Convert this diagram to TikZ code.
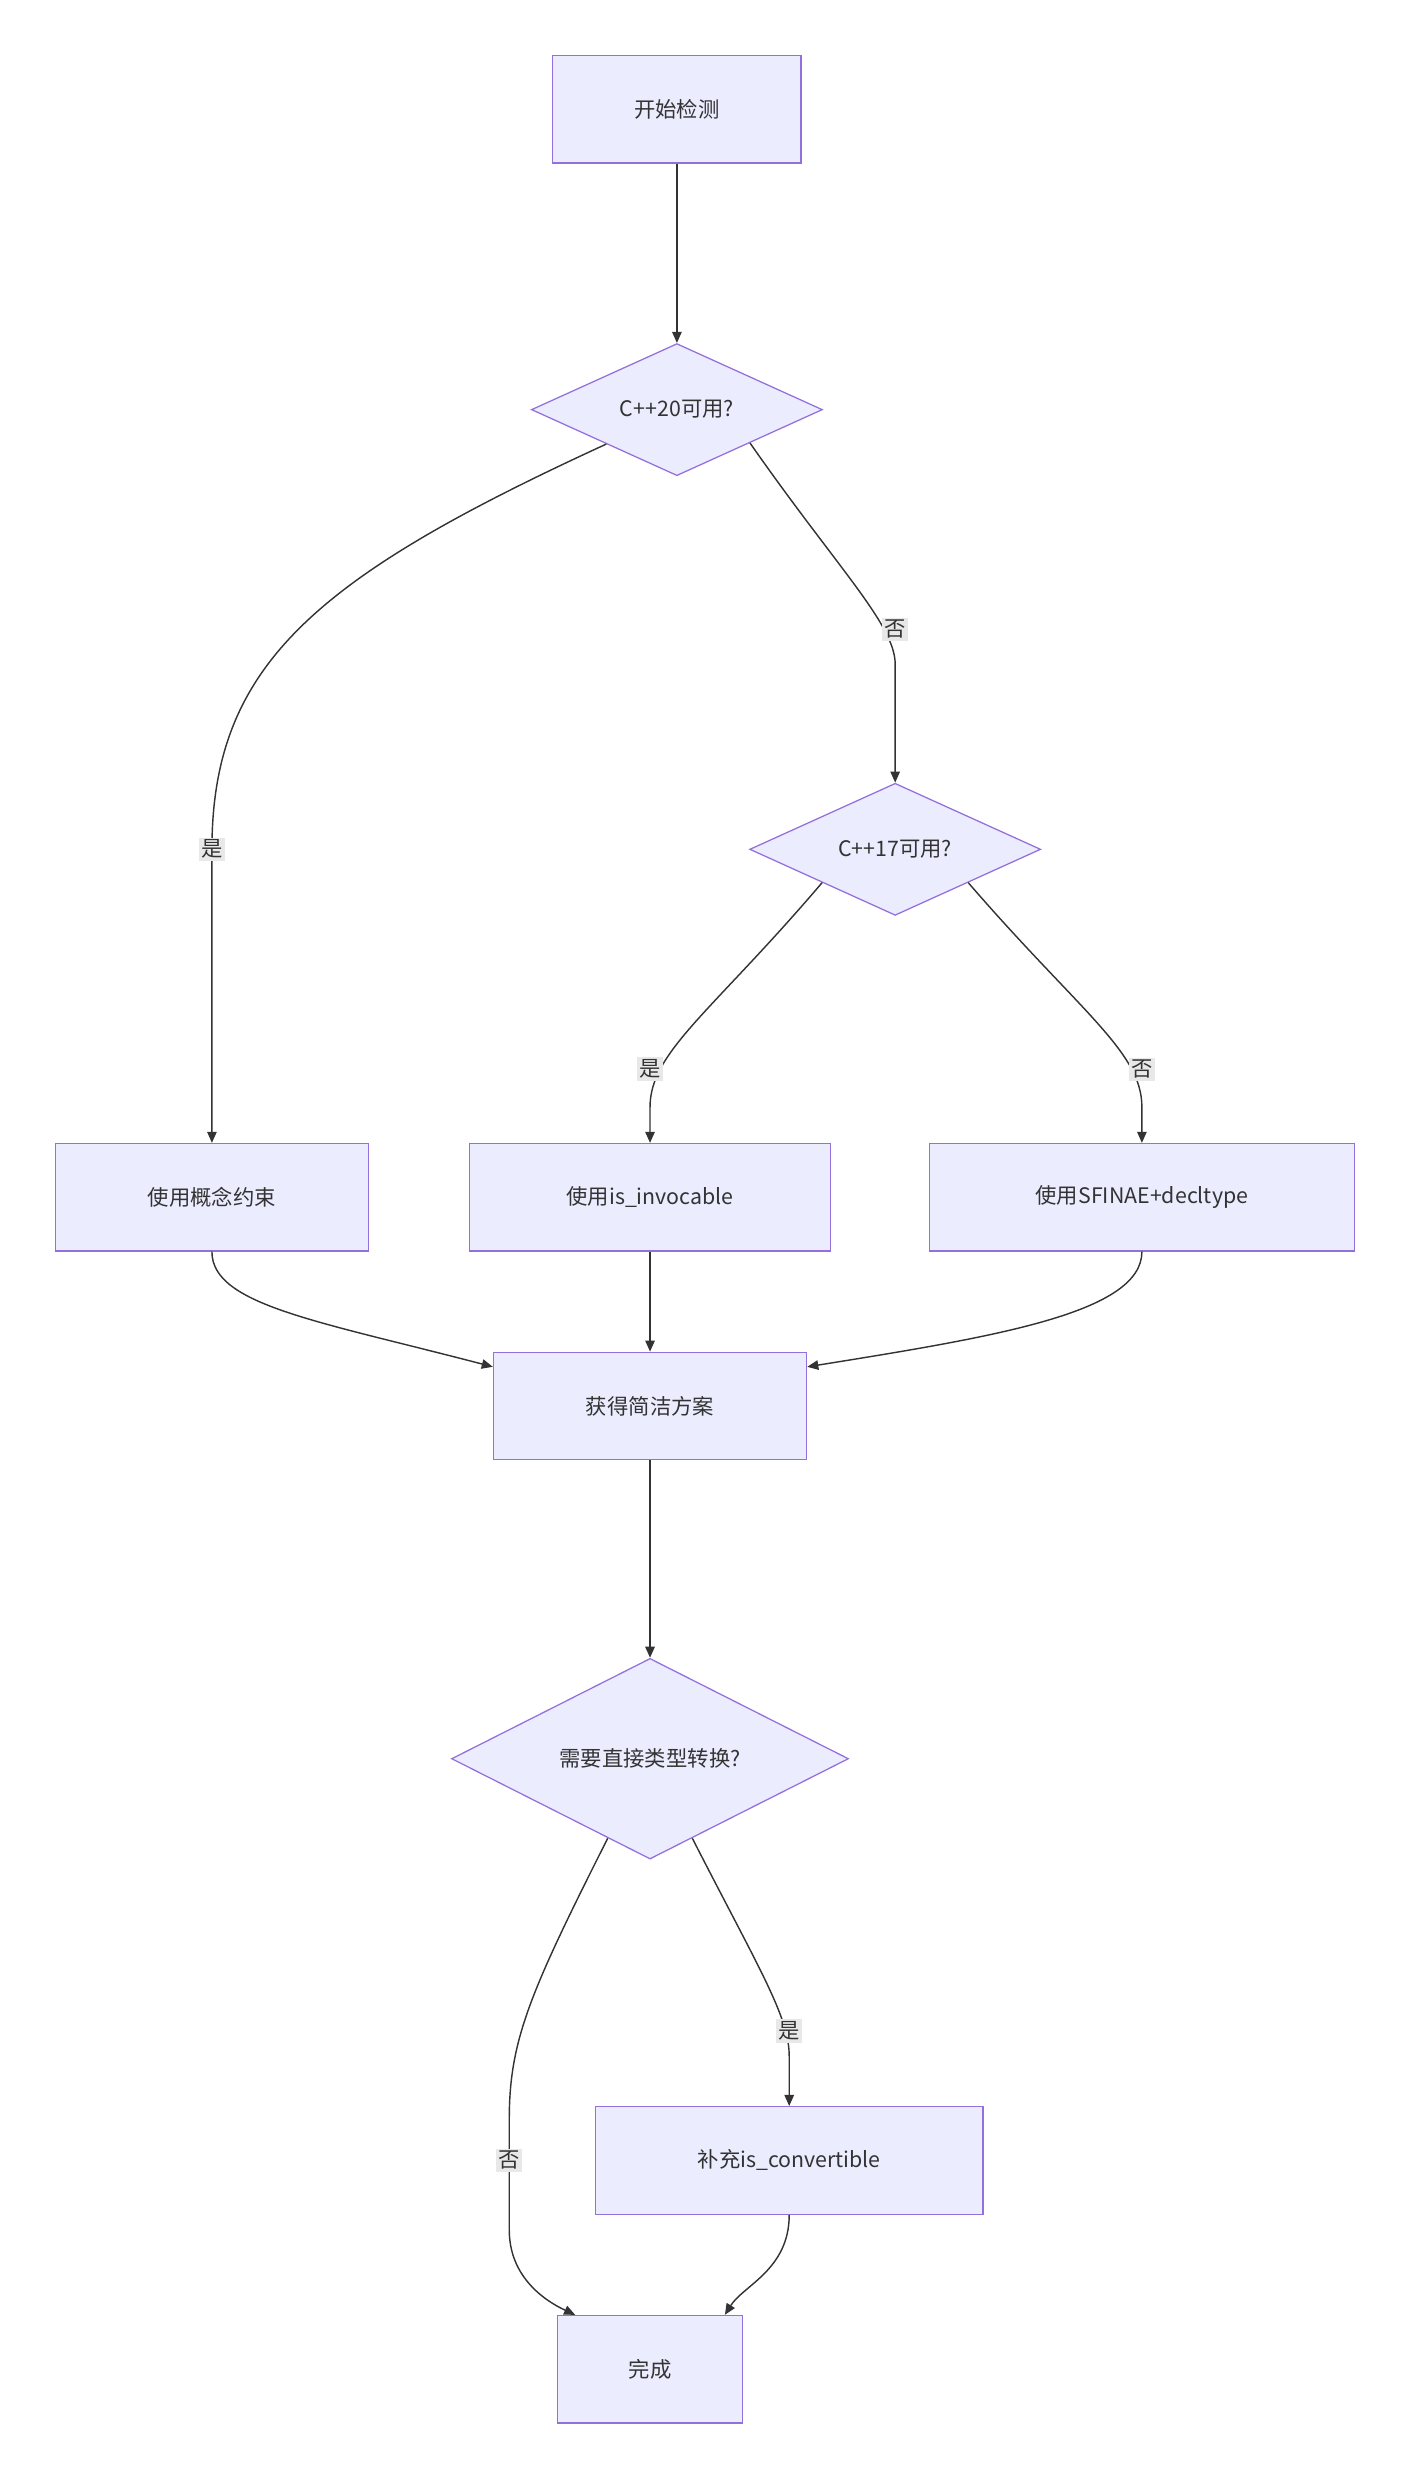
\documentclass[tikz,border=0pt]{standalone}
\usepackage{fontspec}
\setmainfont{Noto Sans CJK SC}
\usetikzlibrary{shapes.geometric,arrows.meta}
\definecolor{nf}{HTML}{ECECFF}
\definecolor{nb}{HTML}{9370DB}
\definecolor{ln}{HTML}{333333}
\definecolor{lb}{HTML}{E8E8E8}
\begin{document}
\begin{tikzpicture}[x=1pt,y=-1pt,
  box/.style={draw=nb,fill=nf,line width=0.8pt,minimum height=68pt,inner sep=0pt,font=\fontsize{13.5}{16}\selectfont,text=ln},
  dia/.style={draw=nb,fill=nf,line width=0.8pt,diamond,aspect=1,inner sep=0pt,font=\fontsize{13.5}{16}\selectfont,text=ln},
  lab/.style={fill=lb,inner sep=1.5pt,font=\fontsize{13.5}{16}\selectfont,text=ln},
  e/.style={draw=ln,line width=0.9pt,-{Triangle[length=7pt,width=6pt]}}]
\useasboundingbox (0,0) rectangle (889,1563);
\node[box,minimum width=157pt] (s) at (428,69) {开始检测};
\node[dia,minimum width=184pt] (d1) at (428,259) {C++20可用?};
\node[dia,minimum width=184pt] (d2) at (566,537) {C++17可用?};
\node[box,minimum width=198pt] (a) at (134,757) {使用概念约束};
\node[box,minimum width=228pt] (b) at (411,757) {使用is\_invocable};
\node[box,minimum width=269pt] (c) at (722,757) {使用SFINAE+decltype};
\node[box,minimum width=198pt] (g) at (411,889) {获得简洁方案};
\node[dia,minimum width=251pt] (d3) at (411,1112) {需要直接类型转换?};
\node[box,minimum width=245pt] (eb) at (499,1366) {补充is\_convertible};
\node[box,minimum width=117pt] (f) at (411,1498) {完成};

\draw[e] (s.south) -- (d1.north);
\draw[e] (d1.206) .. controls (200,365) and (134,420) .. (134,537) -- (a.north);
\draw[e] (d1.south east) .. controls (530,360) and (566,395) .. (566,420) -- (d2.north);
\draw[e] (d2.south west) .. controls (450,640) and (411,665) .. (411,700) -- (b.north);
\draw[e] (d2.south east) .. controls (683,640) and (722,665) .. (722,700) -- (c.north);
\draw[e] (a.south) .. controls (134,825) and (200,835) .. (g.166);
\draw[e] (b.south) -- (g.north);
\draw[e] (c.south) .. controls (722,830) and (630,845) .. (g.14);
\draw[e] (g.south) -- (d3.north);
\draw[e] (d3.-62) .. controls (480,1245) and (499,1275) .. (499,1300) -- (eb.north);
\draw[e] (d3.-118) .. controls (335,1260) and (322,1290) .. (322,1340) -- (322,1410) .. controls (322,1440) and (345,1455) .. (f.144);
\draw[e] (eb.south) .. controls (499,1435) and (470,1445) .. (f.36);

\node[lab] (l1) at (134,537) {是};
\node[lab] (l2) at (566,398) {否};
\node[lab] (l3) at (411,676) {是};
\node[lab] (l4) at (722,676) {否};
\node[lab] (l5) at (499,1284) {是};
\node[lab] (l6) at (322,1366) {否};
\end{tikzpicture}
\end{document}
